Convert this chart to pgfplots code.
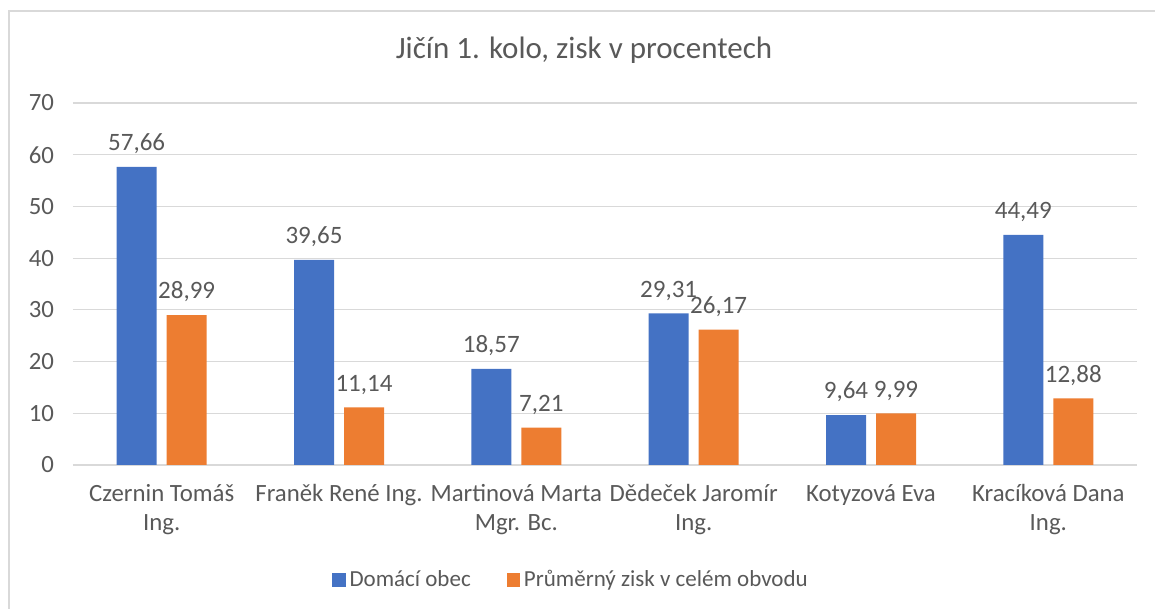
\documentclass[border=0pt]{standalone}
\usepackage{pgfplots}
\pgfplotsset{compat=1.18}
\usepackage{fontspec}
\setmainfont{Carlito}
\definecolor{cblue}{HTML}{4472C4}
\definecolor{corange}{HTML}{ED7D31}
\definecolor{cgrid}{HTML}{D9D9D9}
\definecolor{ctext}{HTML}{595959}
\begin{document}
\begin{tikzpicture}
\useasboundingbox (-36.5pt,-72pt) rectangle (541pt,232.5pt);
\draw[cgrid, line width=0.6pt] (-32pt,-90pt) rectangle (560pt,227pt);
\node[text=ctext, font=\fontsize{15.5pt}{18pt}\selectfont] at (255.5pt,207.5pt) {Jičín 1. kolo, zisk v procentech};
\begin{axis}[
  at={(0pt,0pt)}, anchor=south west,
  scale only axis, width=532pt, height=181pt,
  ybar, bar width=20pt, ybar=5pt,
  xmin=-0.5, xmax=5.5, ymin=0, ymax=70,
  ytick={0,10,...,70},
  xtick={0,...,5},
  xticklabels={{Czernin Tomáš\\Ing.},{Franěk René Ing.},{Martinová Marta\\Mgr. Bc.},{Dědeček Jaromír\\Ing.},{Kotyzová Eva},{Kracíková Dana\\Ing.}},
  xticklabel style={align=center, anchor=north, yshift=-6pt, font=\fontsize{12.4pt}{14.5pt}\selectfont, text=ctext},
  yticklabel style={anchor=east, xshift=-6pt, font=\fontsize{12.4pt}{14pt}\selectfont, text=ctext},
  /pgf/number format/assume math mode=true,
  ymajorgrids, grid style={cgrid, line width=0.6pt},
  major tick length=0pt,
  axis line style={draw=none},
  nodes near coords,
  nodes near coords style={font=\fontsize{12.5pt}{14pt}\selectfont, text=ctext, yshift=3pt,
    /pgf/number format/use comma, /pgf/number format/fixed, /pgf/number format/fixed zerofill, /pgf/number format/precision=2},
  legend style={draw=none, at={(249.5pt,-57.5pt)}, anchor=center, legend columns=2, font=\fontsize{11.5pt}{14pt}\selectfont, text=ctext, /tikz/every even column/.append style={column sep=16pt}},
  legend image code/.code={\fill[#1] (0pt,-3.3pt) rectangle (6.6pt,3.3pt);},
]
\addplot[fill=cblue, draw=none] coordinates {(0,57.66) (1,39.65) (2,18.57) (3,29.31) (4,9.64) (5,44.49)};
\addplot[fill=corange, draw=none] coordinates {(0,28.99) (1,11.14) (2,7.21) (3,26.17) (4,9.99) (5,12.88)};
\legend{Domácí obec, Průměrný zisk v celém obvodu}
\end{axis}
\end{tikzpicture}
\end{document}
